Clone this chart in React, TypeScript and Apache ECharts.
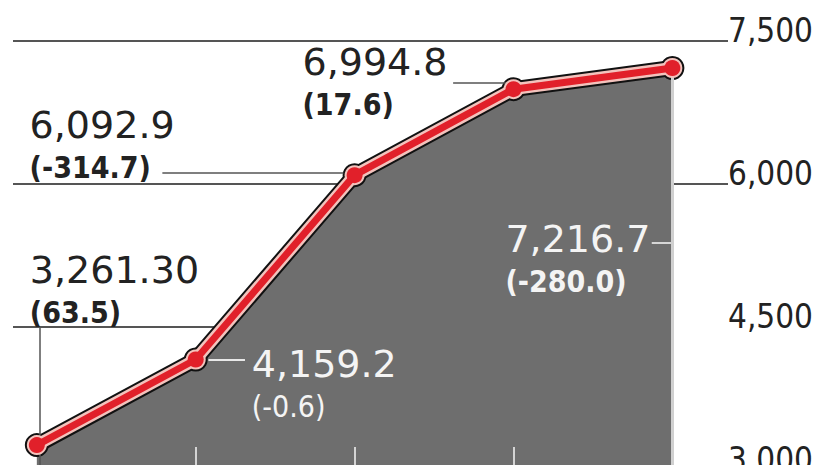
import React, { useEffect, useRef } from 'react';
import * as echarts from 'echarts';

// ---- data ----
const periods = [0, 1, 2, 3, 4];
const values = [3261.3, 4159.2, 6092.9, 6994.8, 7216.7];
const valueLabels = ['3,261.30', '4,159.2', '6,092.9', '6,994.8', '7,216.7'];
const changeLabels = ['(63.5)', '(-0.6)', '(-314.7)', '(17.6)', '(-280.0)'];
const yTicks = [3000, 4500, 6000, 7500];

// ---- layout / style ----
const XMIN = -0.15;
const XMAX = 4.35;
const DARK = '#222222';
const LIGHT = '#f4f4f4';
const GRID_COLOR = '#555555';

const labelLayout = [
  { dx: -7, dy: -154, color: DARK, subWeight: 'bold' },
  { dx: 56, dy: 26, color: LIGHT, subWeight: 'normal' },
  { dx: -325, dy: -29, color: DARK, subWeight: 'bold' },
  { dx: -211, dy: -6, color: DARK, subWeight: 'bold' },
  { dx: -167, dy: 192, color: LIGHT, subWeight: 'bold' },
];

const seg = (x1: number, y1: number, x2: number, y2: number, color: string, width: number) => [
  { coord: [x1, y1], lineStyle: { color, width, type: 'solid' } },
  { coord: [x2, y2] },
];

export default function App() {
  const ref = useRef<HTMLDivElement>(null);

  useEffect(() => {
    if (!ref.current) return;
    const chart = echarts.init(ref.current, undefined, { renderer: 'svg' });
    const yMin = yTicks[0];
    const yMax = yTicks[yTicks.length - 1];
    const step = yTicks[1] - yTicks[0];

    const pts = periods.map((p, i) => [p, values[i]]);

    const gridLines = [
      seg(XMIN, 7500, XMAX, 7500, GRID_COLOR, 2),
      seg(XMIN, 6000, XMAX, 6000, GRID_COLOR, 2),
      seg(XMIN, 4500, periods[4], 4500, GRID_COLOR, 2),
    ];

    const leaders: any[] = [
      seg(periods[0] + 0.02, 4500, periods[0] + 0.02, yMin, GRID_COLOR, 1.5),
      seg(periods[1] + 0.08, values[1], periods[1] + 0.31, values[1], '#e8e8e8', 2),
      seg(periods[2] - 1.21, 6121, periods[2] - 0.07, 6121, GRID_COLOR, 1.5),
      seg(periods[3] - 0.38, 7058, periods[3] - 0.04, 7058, GRID_COLOR, 1.5),
      seg(periods[4] - 0.13, 5384, periods[4], 5384, '#d6d6d6', 2),
      seg(periods[4], values[4], periods[4], yMin, '#d0d0d0', 3),
    ];
    periods.slice(1, 4).forEach((p) => {
      leaders.push(seg(p, yMin, p, yMin + 242, '#d4d4d4', 2));
    });

    const redData = pts.map((pt, i) => ({
      value: pt,
      label: {
        show: true,
        position: 'inside',
        offset: [labelLayout[i].dx, labelLayout[i].dy],
        align: 'left',
        verticalAlign: 'middle',
        formatter: `{a|${valueLabels[i]}}\n{b|${changeLabels[i]}}`,
        rich: {
          a: {
            fontFamily: 'DejaVu Sans',
            fontSize: 38,
            lineHeight: 42,
            color: labelLayout[i].color,
            align: 'left',
          },
          b: {
            fontFamily: 'DejaVu Sans Condensed',
            fontSize: 30,
            fontWeight: labelLayout[i].subWeight,
            lineHeight: 42,
            color: labelLayout[i].color,
            align: 'left',
          },
        },
      },
    }));

    chart.setOption({
      animation: false,
      backgroundColor: '#ffffff',
      grid: {
        left: 13,
        top: 41,
        width: 715,
        height: 429,
        containLabel: false,
        outerBoundsMode: 'none',
      },
      xAxis: { type: 'value', min: XMIN, max: XMAX, show: false },
      yAxis: {
        type: 'value',
        position: 'right',
        min: yMin,
        max: yMax,
        interval: step,
        axisLine: { show: false },
        axisTick: { show: false },
        splitLine: { show: false },
        axisLabel: {
          margin: 0,
          align: 'left',
          verticalAlign: 'bottom',
          lineHeight: 22,
          fontFamily: 'DejaVu Sans Condensed',
          fontSize: 33,
          color: '#222222',
          showMinLabel: true,
          showMaxLabel: true,
          formatter: (v: number) => v.toLocaleString('en-US'),
        },
      },
      series: [
        {
          type: 'line',
          z: 2,
          data: pts,
          symbol: 'circle',
          symbolSize: 24,
          itemStyle: { color: '#111111' },
          lineStyle: { color: '#111111', width: 16 },
          areaStyle: { color: '#6e6e6e', opacity: 1, origin: 'start' },
          silent: true,
          markLine: {
            z: 1,
            silent: true,
            symbol: ['none', 'none'],
            label: { show: false },
            data: gridLines,
          },
        },
        {
          type: 'line',
          z: 3,
          data: pts,
          symbol: 'circle',
          symbolSize: 20,
          itemStyle: { color: '#f3c3bd' },
          lineStyle: { color: '#f3c3bd', width: 12 },
          silent: true,
          markLine: {
            z: 2.5,
            silent: true,
            symbol: ['none', 'none'],
            label: { show: false },
            data: leaders,
          },
        },
        {
          type: 'line',
          z: 4,
          data: redData,
          symbol: 'circle',
          symbolSize: 16,
          itemStyle: { color: '#e1202a' },
          lineStyle: { color: '#e1202a', width: 7 },
          silent: true,
        },
      ],
    });
    return () => chart.dispose();
  }, []);

  return (
    <div
      ref={ref}
      style={{ position: 'fixed', left: 0, top: 0, width: 826, height: 465 }}
    />
  );
}
